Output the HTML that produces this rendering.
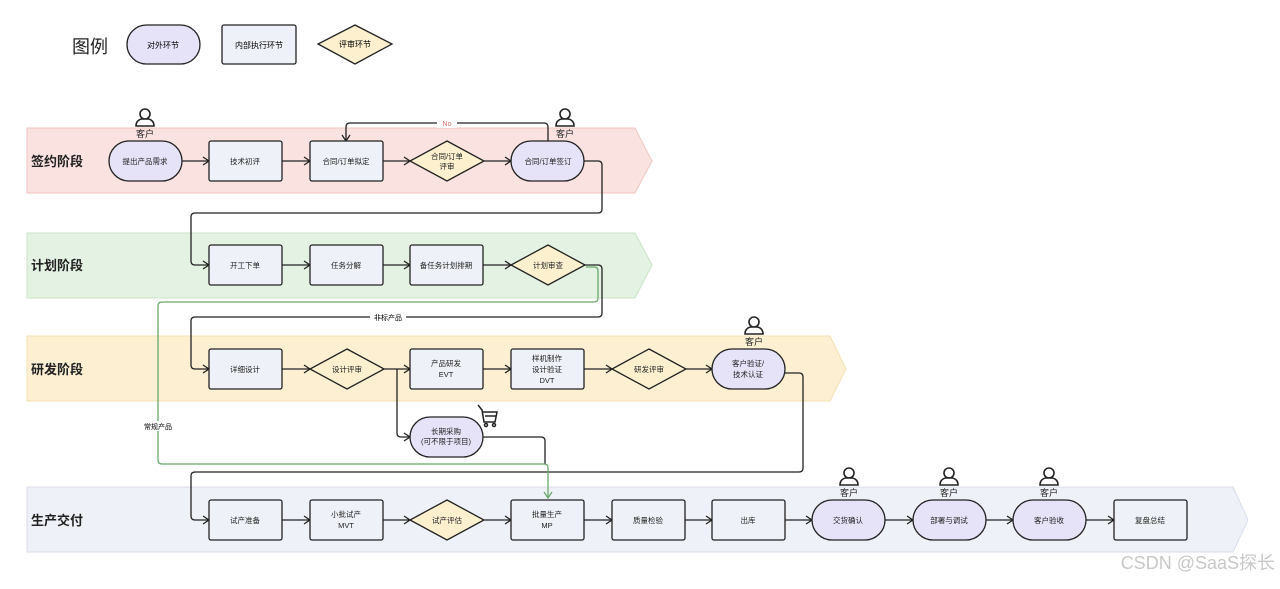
<!DOCTYPE html>
<html><head><meta charset="utf-8"><style>
html,body{margin:0;padding:0;background:#fff;}
svg text{font-family:"Liberation Sans","Noto Sans CJK SC",sans-serif;}
</style></head><body>
<svg width="1280" height="584" viewBox="0 0 1280 584" xmlns="http://www.w3.org/2000/svg">
<defs>
<marker id="a" markerWidth="10" markerHeight="10" refX="8" refY="5" orient="auto" markerUnits="userSpaceOnUse"><path d="M2,1 L8,5 L2,9" fill="none" stroke="#222" stroke-width="1.3"/></marker>
<marker id="g" markerWidth="10" markerHeight="10" refX="8" refY="5" orient="auto" markerUnits="userSpaceOnUse"><path d="M2,1 L8,5 L2,9" fill="none" stroke="#6aa86a" stroke-width="1.3"/></marker>
<g id="p"><circle cx="0" cy="-6" r="5" fill="#fff" stroke="#222" stroke-width="1.6"/><path d="M-9,6 C-9,0 -4,-1 -3,-1 L3,-1 C4,-1 9,0 9,6 Z" fill="#fff" stroke="#222" stroke-width="1.6"/></g>
</defs>
<!-- legend -->
<text x="72" y="53" font-size="18" fill="#222">图例</text>
<rect x="127" y="25" width="73" height="39" rx="19.5" fill="#e6e3f8" stroke="#222" stroke-width="1.3"/>
<text x="163" y="48" font-size="8" text-anchor="middle">对外环节</text>
<rect x="222" y="25" width="74" height="39" rx="2" fill="#eff1f9" stroke="#222" stroke-width="1.3"/>
<text x="259" y="48" font-size="8" text-anchor="middle">内部执行环节</text>
<polygon points="355,25 392,44 355,64 318,44" fill="#fcf0cf" stroke="#222" stroke-width="1.3"/>
<text x="355" y="47" font-size="8" text-anchor="middle">评审环节</text>
<!-- bands -->
<polygon points="27,128 635,128 652,161 635,193 27,193" fill="#f9e2df" stroke="#f1c6c2"/>
<polygon points="27,233 635,233 652,265 635,298 27,298" fill="#e3f2e2" stroke="#c9e3c7"/>
<polygon points="27,336 830,336 846,369 830,401 27,401" fill="#fcefd2" stroke="#f3e0b4"/>
<polygon points="27,487 1233,487 1248,520 1233,552 27,552" fill="#eff1f9" stroke="#d9dcea"/>
<g font-size="13" font-weight="bold" fill="#222">
<text x="31" y="166">签约阶段</text><text x="31" y="270">计划阶段</text><text x="31" y="374">研发阶段</text><text x="31" y="525">生产交付</text>
</g>
<!-- connectors -->
<g fill="none" stroke="#222" stroke-width="1.3">
<path d="M182,161H209" marker-end="url(#a)"/><path d="M282,161H310" marker-end="url(#a)"/><path d="M383,161H410" marker-end="url(#a)"/><path d="M484,161H511" marker-end="url(#a)"/>
<path d="M548,141V127Q548,123 544,123H350Q346,123 346,127V141" marker-end="url(#a)"/>
<path d="M584,161H598Q602,161 602,165V209Q602,213 598,213H195Q191,213 191,217V261Q191,265 195,265H209" marker-end="url(#a)"/>
<path d="M282,265H310" marker-end="url(#a)"/><path d="M383,265H410" marker-end="url(#a)"/><path d="M483,265H511" marker-end="url(#a)"/>
<path d="M584,265H598Q602,265 602,269V313Q602,317 598,317H195Q191,317 191,321V365Q191,369 195,369H209" marker-end="url(#a)"/>
<path d="M282,369H310" marker-end="url(#a)"/><path d="M383,369H410" marker-end="url(#a)"/><path d="M483,369H511" marker-end="url(#a)"/><path d="M584,369H612" marker-end="url(#a)"/><path d="M685,369H712" marker-end="url(#a)"/>
<path d="M397,369V433Q397,437 401,437H410" marker-end="url(#a)"/>
<path d="M483,437H541Q545,437 545,441V464"/>
<path d="M785,373H799Q803,373 803,377V468Q803,472 799,472H195Q191,472 191,476V516Q191,520 195,520H209" marker-end="url(#a)"/>
<path d="M282,520H310" marker-end="url(#a)"/><path d="M383,520H410" marker-end="url(#a)"/><path d="M484,520H511" marker-end="url(#a)"/><path d="M584,520H612" marker-end="url(#a)"/><path d="M685,520H712" marker-end="url(#a)"/><path d="M785,520H812" marker-end="url(#a)"/><path d="M885,520H913" marker-end="url(#a)"/><path d="M986,520H1013" marker-end="url(#a)"/><path d="M1086,520H1114" marker-end="url(#a)"/>
</g>
<path d="M586,267H594Q598,267 598,271V298Q598,302 594,302H162Q158,302 158,306V460Q158,464 162,464H544Q548,464 548,468V498" fill="none" stroke="#6aa86a" stroke-width="1.3" marker-end="url(#g)"/>
<rect x="437" y="118" width="20" height="10" fill="#fff"/><text x="447" y="126" font-size="7" fill="#e07070" text-anchor="middle">No</text>
<rect x="370" y="312" width="36" height="10" fill="#fff"/><text x="388" y="320" font-size="7" text-anchor="middle">非标产品</text>
<rect x="141" y="421" width="34" height="10" fill="#fff"/><text x="158" y="429" font-size="7" text-anchor="middle">常规产品</text>
<!-- nodes -->
<g stroke="#222" stroke-width="1.3">
<rect x="109" y="141" width="73" height="40" rx="20" fill="#e6e3f8"/>
<rect x="209" y="141" width="73" height="40" rx="2" fill="#eff1f9"/>
<rect x="310" y="141" width="73" height="40" rx="2" fill="#eff1f9"/>
<polygon points="447,141 484,161 447,181 410,161" fill="#fcf0cf"/>
<rect x="511" y="141" width="73" height="40" rx="20" fill="#e6e3f8"/>
<rect x="209" y="245" width="73" height="40" rx="2" fill="#eff1f9"/>
<rect x="310" y="245" width="73" height="40" rx="2" fill="#eff1f9"/>
<rect x="410" y="245" width="73" height="40" rx="2" fill="#eff1f9"/>
<polygon points="548,245 585,265 548,285 511,265" fill="#fcf0cf"/>
<rect x="209" y="349" width="73" height="40" rx="2" fill="#eff1f9"/>
<polygon points="347,349 384,369 347,389 310,369" fill="#fcf0cf"/>
<rect x="410" y="349" width="73" height="40" rx="2" fill="#eff1f9"/>
<rect x="511" y="349" width="73" height="40" rx="2" fill="#eff1f9"/>
<polygon points="649,349 686,369 649,389 612,369" fill="#fcf0cf"/>
<rect x="712" y="349" width="73" height="40" rx="20" fill="#e6e3f8"/>
<rect x="410" y="417" width="73" height="40" rx="20" fill="#e6e3f8"/>
<rect x="209" y="500" width="73" height="40" rx="2" fill="#eff1f9"/>
<rect x="310" y="500" width="73" height="40" rx="2" fill="#eff1f9"/>
<polygon points="447,500 484,520 447,540 410,520" fill="#fcf0cf"/>
<rect x="511" y="500" width="73" height="40" rx="2" fill="#eff1f9"/>
<rect x="612" y="500" width="73" height="40" rx="2" fill="#eff1f9"/>
<rect x="712" y="500" width="73" height="40" rx="2" fill="#eff1f9"/>
<rect x="812" y="500" width="73" height="40" rx="20" fill="#e6e3f8"/>
<rect x="913" y="500" width="73" height="40" rx="20" fill="#e6e3f8"/>
<rect x="1013" y="500" width="73" height="40" rx="20" fill="#e6e3f8"/>
<rect x="1114" y="500" width="73" height="40" rx="2" fill="#eff1f9"/>
</g>
<g font-size="7.5" text-anchor="middle" fill="#222">
<text x="145" y="164">提出产品需求</text><text x="245" y="164">技术初评</text><text x="346" y="164">合同/订单拟定</text>
<text x="447" y="159">合同/订单</text><text x="447" y="169">评审</text><text x="548" y="164">合同/订单签订</text>
<text x="245" y="268">开工下单</text><text x="346" y="268">任务分解</text><text x="446" y="268">备任务计划排期</text><text x="548" y="268">计划审查</text>
<text x="245" y="372">详细设计</text><text x="347" y="372">设计评审</text><text x="446" y="366">产品研发</text><text x="446" y="377">EVT</text>
<text x="547" y="361">样机制作</text><text x="547" y="372">设计验证</text><text x="547" y="383">DVT</text>
<text x="649" y="372">研发评审</text><text x="748" y="366">客户验证/</text><text x="748" y="377">技术认证</text>
<text x="446" y="434">长期采购</text><text x="446" y="444">(可不限于项目)</text>
<text x="245" y="523">试产准备</text><text x="346" y="517">小批试产</text><text x="346" y="528">MVT</text><text x="447" y="523">试产评估</text>
<text x="547" y="517">批量生产</text><text x="547" y="528">MP</text><text x="648" y="523">质量检验</text><text x="748" y="523">出库</text>
<text x="848" y="523">交货确认</text><text x="949" y="523">部署与调试</text><text x="1049" y="523">客户验收</text><text x="1150" y="523">复盘总结</text>
</g>
<!-- persons -->
<use href="#p" x="145" y="120"/><use href="#p" x="565" y="120"/><use href="#p" x="754" y="328"/><use href="#p" x="849" y="479"/><use href="#p" x="949" y="479"/><use href="#p" x="1049" y="479"/>
<g font-size="9" text-anchor="middle" fill="#222">
<text x="145" y="137">客户</text><text x="565" y="137">客户</text><text x="754" y="345">客户</text><text x="849" y="496">客户</text><text x="949" y="496">客户</text><text x="1049" y="496">客户</text>
</g>
<!-- cart -->
<g fill="none" stroke="#222" stroke-width="1.5"><path d="M478,405L482,410L484,422H495L497,412H483"/><path d="M485,416H496"/><circle cx="486" cy="425" r="1.5"/><circle cx="494" cy="425" r="1.5"/></g>
<text x="1275" y="569" font-size="18" fill="#c8c8c8" text-anchor="end">CSDN @SaaS探长</text>
</svg>
</body></html>
